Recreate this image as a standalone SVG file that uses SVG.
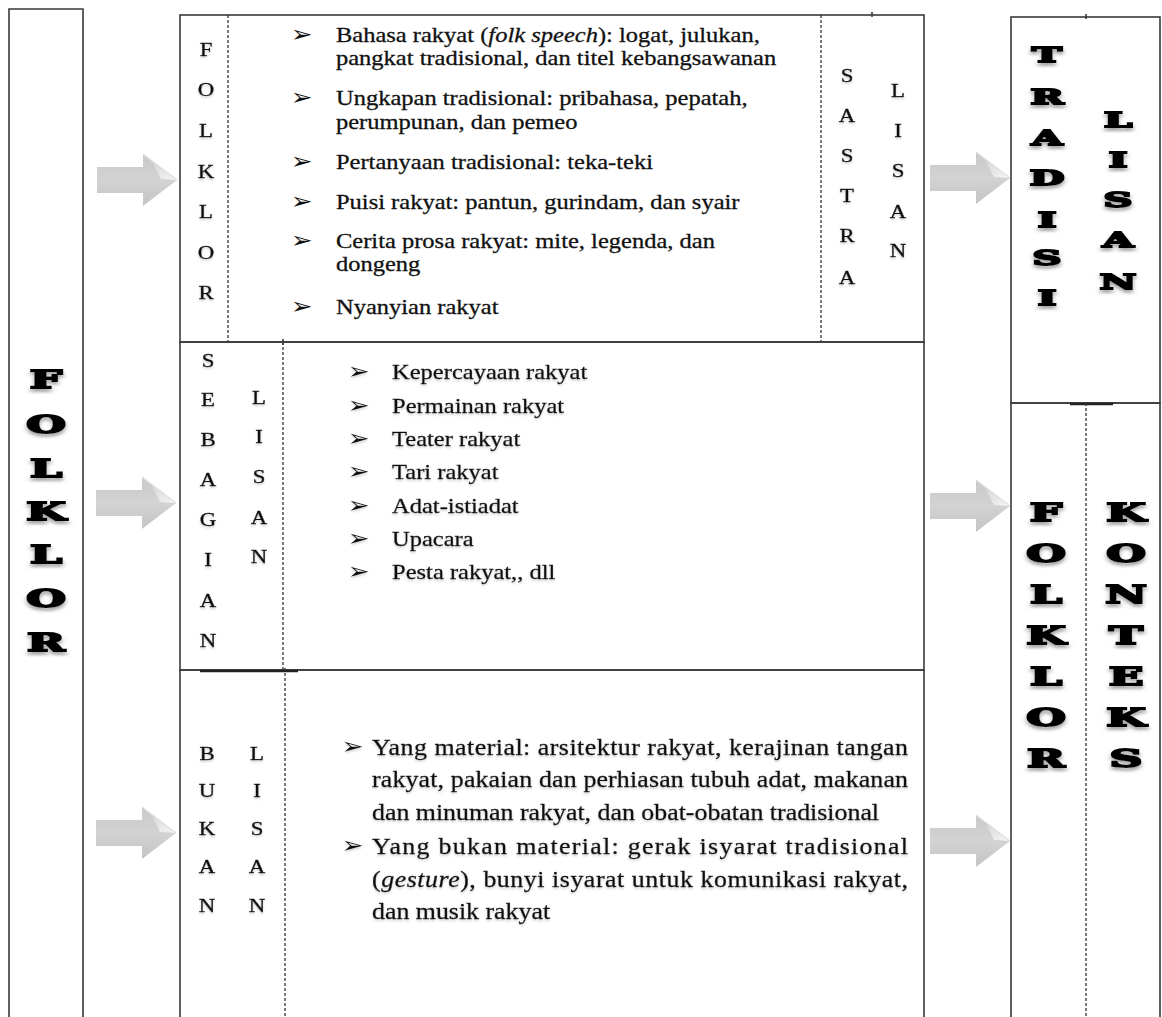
<svg xmlns="http://www.w3.org/2000/svg" width="1162" height="1017" viewBox="0 0 1162 1017">
<style>
.box{fill:none;stroke:#3a3a3a;stroke-width:1.6}
.ln{fill:none;stroke:#3a3a3a;stroke-width:1.6}
.tk{fill:none;stroke:#222;stroke-width:2.6}
.dash{fill:none;stroke:#333;stroke-width:1.3;stroke-dasharray:3 2}
.t{font-family:"Liberation Serif","Times New Roman",serif;font-size:21.5px;fill:#111;stroke:#111;stroke-width:0.3}
.tb{font-family:"Liberation Serif","Times New Roman",serif;font-size:22.5px;fill:#111;stroke:#111;stroke-width:0.3}
.bul{font-family:"DejaVu Sans",sans-serif;font-size:23px;font-weight:bold;fill:#111}
.let{font-family:"Liberation Serif","Times New Roman",serif;font-size:19px;fill:#111;text-anchor:middle;stroke:#111;stroke-width:0.35}
.big{font-family:"DejaVu Serif",serif;font-weight:bold;fill:#000;stroke:#000;stroke-width:1.8;text-anchor:middle}
</style>
<defs>
<filter id="sh" x="-30%" y="-30%" width="160%" height="180%">
<feDropShadow dx="0" dy="3" stdDeviation="1.4" flood-color="#777" flood-opacity="0.65"/>
</filter>
<filter id="sh2" x="-30%" y="-30%" width="160%" height="180%">
<feDropShadow dx="0" dy="1.5" stdDeviation="0.8" flood-color="#888" flood-opacity="0.45"/>
</filter>
<linearGradient id="ag" x1="0" y1="0" x2="0" y2="1">
<stop offset="0" stop-color="#c9c9c9"/>
<stop offset="0.5" stop-color="#d3d3d3"/>
<stop offset="1" stop-color="#c4c4c4"/>
</linearGradient>
<linearGradient id="fg" x1="0" y1="0" x2="1" y2="1">
<stop offset="0" stop-color="#d8d8d8"/>
<stop offset="1" stop-color="#f6f6f6"/>
</linearGradient>
<g id="arrow">
<path d="M-80,-13 H-34 V-26 L0,0 L-34,26 V13 H-80 Z" fill="url(#ag)"/>
<path d="M-24,-17 L0,0 L-16,-1 Z" fill="url(#fg)"/>
<path d="M-34,-26 L0,0" stroke="#e0e0e0" stroke-width="1.2"/>
</g>
</defs>

<g id="connectors">
<use href="#arrow" transform="translate(177,180)"/>
<use href="#arrow" transform="translate(176,503)"/>
<use href="#arrow" transform="translate(176,833)"/>
<use href="#arrow" transform="translate(1010,178)"/>
<use href="#arrow" transform="translate(1010,506)"/>
<use href="#arrow" transform="translate(1010,841)"/>
</g>

<g id="folklor-main">
<path class="box" d="M9,1020 V9 H83 V1020"/>
<g transform="translate(46,0) scale(1.9,1)" filter="url(#sh)" font-size="24">
<text class="big" x="0" y="388">F</text>
<text class="big" x="0" y="433">O</text>
<text class="big" x="0" y="477">L</text>
<text class="big" x="0" y="520">K</text>
<text class="big" x="0" y="563">L</text>
<text class="big" x="0" y="607">O</text>
<text class="big" x="0" y="651">R</text>
</g>
</g>

<g id="sastra-lisan">
<rect class="box" x="180" y="15" width="744" height="327"/>
<line class="dash" x1="228" y1="15" x2="228" y2="345"/>
<line class="dash" x1="821" y1="15" x2="821" y2="342"/>
<line class="ln" x1="872" y1="12" x2="872" y2="17"/>
<g transform="translate(206,0) scale(1.2,1)" filter="url(#sh2)">
<text class="let" x="0" y="56">F</text>
<text class="let" x="0" y="96">O</text>
<text class="let" x="0" y="137">L</text>
<text class="let" x="0" y="178">K</text>
<text class="let" x="0" y="218">L</text>
<text class="let" x="0" y="259">O</text>
<text class="let" x="0" y="299">R</text>
</g>
<g transform="translate(847,0) scale(1.2,1)" filter="url(#sh2)">
<text class="let" x="0" y="82">S</text>
<text class="let" x="0" y="122">A</text>
<text class="let" x="0" y="162">S</text>
<text class="let" x="0" y="202">T</text>
<text class="let" x="0" y="242">R</text>
<text class="let" x="0" y="284">A</text>
</g>
<g transform="translate(898,0) scale(1.2,1)" filter="url(#sh2)">
<text class="let" x="0" y="97">L</text>
<text class="let" x="0" y="137">I</text>
<text class="let" x="0" y="177">S</text>
<text class="let" x="0" y="218">A</text>
<text class="let" x="0" y="257">N</text>
</g>
<g transform="scale(1.14,1)">
<text class="bul" x="255" y="42">➢</text>
<text class="bul" x="255" y="105">➢</text>
<text class="bul" x="255" y="169">➢</text>
<text class="bul" x="255" y="209">➢</text>
<text class="bul" x="255" y="248">➢</text>
<text class="bul" x="255" y="314">➢</text>
<text class="t" x="294.7" y="42">Bahasa rakyat (<tspan font-style="italic">folk speech</tspan>): logat, julukan,</text>
<text class="t" x="294.7" y="65">pangkat tradisional, dan titel kebangsawanan</text>
<text class="t" x="294.7" y="105">Ungkapan tradisional: pribahasa, pepatah,</text>
<text class="t" x="294.7" y="129">perumpunan, dan pemeo</text>
<text class="t" x="294.7" y="169">Pertanyaan tradisional: teka-teki</text>
<text class="t" x="294.7" y="209">Puisi rakyat: pantun, gurindam, dan syair</text>
<text class="t" x="294.7" y="248">Cerita prosa rakyat: mite, legenda, dan</text>
<text class="t" x="294.7" y="271">dongeng</text>
<text class="t" x="294.7" y="314">Nyanyian rakyat</text>
</g>
</g>

<g id="sebagian-lisan">
<rect class="box" x="180" y="342" width="744" height="328"/>
<line class="dash" x1="283" y1="342" x2="283" y2="670"/>
<line class="ln" x1="283" y1="339" x2="283" y2="345"/>
<g transform="translate(208,0) scale(1.2,1)" filter="url(#sh2)">
<text class="let" x="0" y="367">S</text>
<text class="let" x="0" y="406">E</text>
<text class="let" x="0" y="446">B</text>
<text class="let" x="0" y="486">A</text>
<text class="let" x="0" y="526">G</text>
<text class="let" x="0" y="566">I</text>
<text class="let" x="0" y="607">A</text>
<text class="let" x="0" y="647">N</text>
</g>
<g transform="translate(259,0) scale(1.2,1)" filter="url(#sh2)">
<text class="let" x="0" y="404">L</text>
<text class="let" x="0" y="443">I</text>
<text class="let" x="0" y="483">S</text>
<text class="let" x="0" y="524">A</text>
<text class="let" x="0" y="563">N</text>
</g>
<g transform="scale(1.14,1)" filter="url(#sh2)">
<text class="bul" x="305" y="379">➢</text>
<text class="bul" x="305" y="413">➢</text>
<text class="bul" x="305" y="446">➢</text>
<text class="bul" x="305" y="479">➢</text>
<text class="bul" x="305" y="513">➢</text>
<text class="bul" x="305" y="546">➢</text>
<text class="bul" x="305" y="579">➢</text>
<text class="t" x="343.9" y="379">Kepercayaan rakyat</text>
<text class="t" x="343.9" y="413">Permainan rakyat</text>
<text class="t" x="343.9" y="446">Teater rakyat</text>
<text class="t" x="343.9" y="479">Tari rakyat</text>
<text class="t" x="343.9" y="513">Adat-istiadat</text>
<text class="t" x="343.9" y="546">Upacara</text>
<text class="t" x="343.9" y="579">Pesta rakyat,, dll</text>
</g>
</g>

<g id="bukan-lisan">
<path class="box" d="M180,1020 V670 H924 V1020"/>
<line class="tk" x1="200" y1="671" x2="298" y2="671"/>
<line class="dash" x1="285" y1="668" x2="285" y2="1020"/>
<g transform="translate(207,0) scale(1.2,1)" filter="url(#sh2)">
<text class="let" x="0" y="760">B</text>
<text class="let" x="0" y="797">U</text>
<text class="let" x="0" y="835">K</text>
<text class="let" x="0" y="873">A</text>
<text class="let" x="0" y="912">N</text>
</g>
<g transform="translate(257,0) scale(1.2,1)" filter="url(#sh2)">
<text class="let" x="0" y="760">L</text>
<text class="let" x="0" y="797">I</text>
<text class="let" x="0" y="835">S</text>
<text class="let" x="0" y="873">A</text>
<text class="let" x="0" y="912">N</text>
</g>
<g transform="scale(1.15,1)" filter="url(#sh2)">
<text class="bul" x="297" y="754">➢</text>
<text class="bul" x="297" y="853">➢</text>
<text class="tb" x="323.5" y="755" textLength="466.1" lengthAdjust="spacing">Yang material: arsitektur rakyat, kerajinan tangan</text>
<text class="tb" x="323.5" y="787" textLength="466.1" lengthAdjust="spacing">rakyat, pakaian dan perhiasan tubuh adat, makanan</text>
<text class="tb" x="323.5" y="820">dan minuman rakyat, dan obat-obatan tradisional</text>
<text class="tb" x="323.5" y="854" textLength="466.1" lengthAdjust="spacing">Yang bukan material: gerak isyarat tradisional</text>
<text class="tb" x="323.5" y="887" textLength="466.1" lengthAdjust="spacing">(<tspan font-style="italic">gesture</tspan>), bunyi isyarat untuk komunikasi rakyat,</text>
<text class="tb" x="323.5" y="919">dan musik rakyat</text>
</g>
</g>

<g id="tradisi-lisan">
<rect class="box" x="1011" y="17" width="149" height="386"/>
<line class="ln" x1="1086" y1="14" x2="1086" y2="19"/>
<g transform="translate(1047,0) scale(2,1)" filter="url(#sh)" font-size="20">
<text class="big" x="0" y="62">T</text>
<text class="big" x="0" y="104">R</text>
<text class="big" x="0" y="145">A</text>
<text class="big" x="0" y="185">D</text>
<text class="big" x="0" y="227">I</text>
<text class="big" x="0" y="265">S</text>
<text class="big" x="0" y="305">I</text>
</g>
<g transform="translate(1118,0) scale(2,1)" filter="url(#sh)" font-size="20">
<text class="big" x="0" y="127">L</text>
<text class="big" x="0" y="167">I</text>
<text class="big" x="0" y="207">S</text>
<text class="big" x="0" y="247">A</text>
<text class="big" x="0" y="289">N</text>
</g>
</g>

<g id="folklor-konteks">
<path class="box" d="M1011,1020 V403 H1160 V1020"/>
<line class="tk" x1="1070" y1="404" x2="1113" y2="404"/>
<line class="dash" x1="1086" y1="403" x2="1086" y2="1020"/>
<g transform="translate(1046,0) scale(1.9,1)" filter="url(#sh)" font-size="24">
<text class="big" x="0" y="521">F</text>
<text class="big" x="0" y="562">O</text>
<text class="big" x="0" y="603">L</text>
<text class="big" x="0" y="644">K</text>
<text class="big" x="0" y="685">L</text>
<text class="big" x="0" y="726">O</text>
<text class="big" x="0" y="767">R</text>
</g>
<g transform="translate(1126,0) scale(1.9,1)" filter="url(#sh)" font-size="24">
<text class="big" x="0" y="521">K</text>
<text class="big" x="0" y="562">O</text>
<text class="big" x="0" y="603">N</text>
<text class="big" x="0" y="644">T</text>
<text class="big" x="0" y="685">E</text>
<text class="big" x="0" y="726">K</text>
<text class="big" x="0" y="767">S</text>
</g>
</g>
</svg>
